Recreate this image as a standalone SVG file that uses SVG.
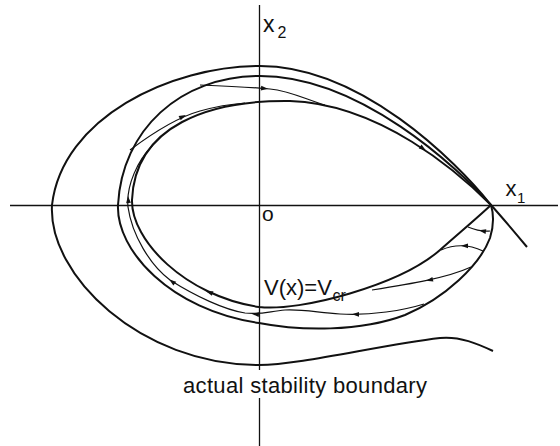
<svg xmlns="http://www.w3.org/2000/svg" xmlns:xlink="http://www.w3.org/1999/xlink" width="560" height="446" viewBox="0 0 560 446">
<style>
.axis{fill:none;stroke:#111;stroke-width:1.3}
.curve{fill:none;stroke:#111;stroke-width:2}
.traj{fill:none;stroke:#111;stroke-width:1.2}
.lbl{font-family:"Liberation Sans",Arial,sans-serif;fill:#111}
.ah{fill:#111}
</style>
<defs>
<path id="ah" d="M1,0 L-6,-2.4 L-6,2.4 Z"/>
</defs>
<rect width="560" height="446" fill="#fff"/>
<g id="axes">
<line class="axis" x1="10" y1="205.5" x2="558" y2="205.5"/>
<line class="axis" x1="259.5" y1="5" x2="259.5" y2="370"/>
<line class="axis" x1="259.5" y1="398" x2="259.5" y2="446"/>
</g>
<g id="connectors">
<path id="stability-boundary" class="curve" d="M527,247 C512,229 500,215 491,205 C455,160 360,66 260,66 C170,66 62,118 52,205 C48,275 140,365 259,365 C300,365 380,345 440,338 C460,336 478,344 493,351"/>
<path id="curve-A" class="curve" d="M491,205 C458,168 360,76 260,76 C180,76 122,130 118,205 C116,250 170,310 259,323 C300,331 360,332 405,315 C445,298 480,265 490,238 C494,225 494,215 491,205"/>
<path id="curve-B" class="curve" d="M491,205 C458,172 380,104 290,101 C210,100 135,125 132,200 C131,240 185,296 259,307 C300,312 400,285 440,250 C458,234 476,219 491,205"/>
<path class="traj" d="M490,231 Q480,232 468,227"/>
<path class="traj" d="M483,251 Q462,241 441,250"/>
<path class="traj" d="M471,267 C447,278 410,284 372,290"/>
<path class="traj" d="M424,304 C405,310 370,316 340,314 C315,312 300,309 285,310 C270,311 262,315 245,313 C225,310 195,296 170,280 C150,265 132,235 128,207 C126,185 138,160 153,145"/>
<path class="traj" d="M130,150 C150,135 175,118 200,111 C218,106 232,104 245,103"/>
<path class="traj" d="M200,85 C225,86 250,87 270,89 C290,91 305,99 325,105"/>
<g class="ah">
<use xlink:href="#ah" transform="translate(480,230.5) rotate(190)"/>
<use xlink:href="#ah" transform="translate(462,245.8) rotate(180)"/>
<use xlink:href="#ah" transform="translate(427,280.5) rotate(168)"/>
<use xlink:href="#ah" transform="translate(353,314.3) rotate(180)"/>
<use xlink:href="#ah" transform="translate(253,314) rotate(186)"/>
<use xlink:href="#ah" transform="translate(170,280) rotate(217)"/>
<use xlink:href="#ah" transform="translate(128,197) rotate(-95)"/>
<use xlink:href="#ah" transform="translate(185,115.5) rotate(-27)"/>
<use xlink:href="#ah" transform="translate(267,88.7) rotate(5)"/>
<use xlink:href="#ah" transform="translate(425,150) rotate(36)"/>
<use xlink:href="#ah" transform="translate(207,291.5) rotate(200)"/>
</g>
</g>
<g id="label-x2"><text class="lbl" x="263" y="32" font-size="23">x</text><text class="lbl" x="277.5" y="37.5" font-size="16">2</text></g>
<g id="label-x1"><text class="lbl" x="505.5" y="196" font-size="22">x</text><text class="lbl" x="517" y="202.5" font-size="15">1</text></g>
<g id="label-origin"><text class="lbl" x="262" y="221" font-size="21">o</text></g>
<g id="label-V"><text class="lbl" x="264" y="295" font-size="22">V(x)=V</text><text class="lbl" x="332.5" y="301" font-size="16">cr</text></g>
<g id="label-boundary"><text class="lbl" x="183" y="393" font-size="22" textLength="244" lengthAdjust="spacing">actual stability boundary</text></g>
</svg>
